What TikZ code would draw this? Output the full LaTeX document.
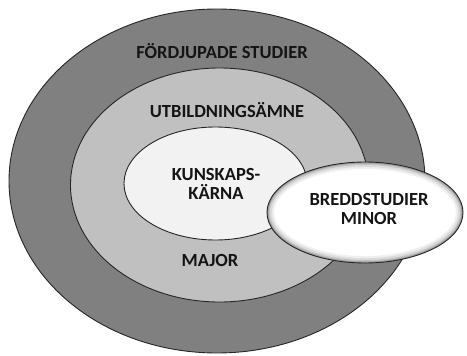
\documentclass[tikz,border=0pt]{standalone}
\usepackage{fontspec}
\setmainfont{Carlito}
\begin{document}
\begin{tikzpicture}[x=1pt,y=-1pt,
  ring/.style={draw=black!85,line width=0.9pt},
  lbl/.style={font=\bfseries\fontsize{18.5}{19.5}\selectfont,text=black!92,align=center,inner sep=0pt}]
\definecolor{outergray}{HTML}{808080}
\definecolor{midgray}{HTML}{C0C0C0}
\definecolor{innergray}{HTML}{F2F2F2}
\useasboundingbox (0,0) rectangle (467,356);
% nested study levels
\path[ring,fill=outergray] (217,181) ellipse [x radius=208,y radius=172];
\path[ring,fill=midgray] (219.5,185) ellipse [x radius=149,y radius=117];
\path[ring,fill=innergray] (215.5,183.5) ellipse [x radius=91.5,y radius=56.5];
% minor: white oval with a soft inner shade along its rim
\path[fill=white] (365,212.5) ellipse [x radius=98,y radius=50.5];
\begin{scope}
  \clip (365,212.5) ellipse [x radius=98,y radius=50.5];
  \foreach \w/\o in {14/0.06,10/0.08,6/0.12,3/0.18}
    \draw[black,opacity=\o,line width=\w pt] (365,212.5) ellipse [x radius=98,y radius=50.5];
\end{scope}
\draw[black!85,line width=0.9pt] (365,212.5) ellipse [x radius=98,y radius=50.5];
% labels
\node[lbl] (fd) at (222,51) {FÖRDJUPADE STUDIER};
\node[lbl] (ut) at (227,110) {UTBILDNINGSÄMNE};
\node[lbl] (kk) at (216,184) {KUNSKAPS-\\KÄRNA};
\node[lbl] (ma) at (210,260) {MAJOR};
\node[lbl] (bs) at (369,209) {BREDDSTUDIER\\MINOR};
\end{tikzpicture}
\end{document}
